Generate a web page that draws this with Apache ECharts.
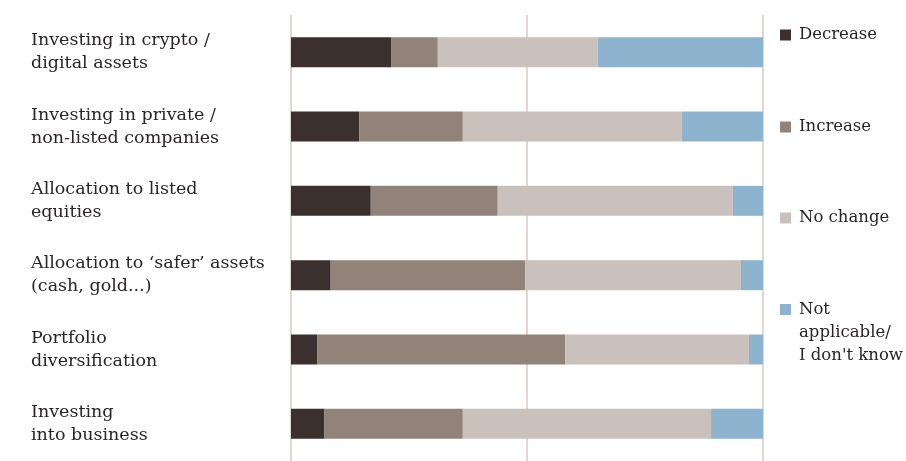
<!DOCTYPE html>
<html>
<head>
<meta charset="utf-8">
<script src="https://cdn.jsdelivr.net/npm/echarts@6/dist/echarts.min.js"></script>
<style>
  html, body { margin: 0; padding: 0; background: #ffffff; }
  #chart { width: 906px; height: 461px; }
</style>
</head>
<body>
<div id="chart"></div>
<script>
// Categories, top to bottom
const categories = [
  'Investing in crypto /\ndigital assets',
  'Investing in private /\nnon-listed companies',
  'Allocation to listed\nequities',
  'Allocation to \u2018safer\u2019 assets\n(cash, gold...)',
  'Portfolio\ndiversification',
  'Investing\ninto business'
];

// Share of respondents (%) per answer
const decrease  = [21.3, 14.5, 16.9,  8.4,  5.6,  7.1];
const increase  = [ 9.8, 21.9, 26.9, 41.2, 52.5, 29.3];
const noChange  = [33.9, 46.4, 49.8, 45.7, 38.9, 52.6];
const notApplicable = [35.0, 17.2,  6.4,  4.7,  3.0, 11.0];

const seriesNames = ['Decrease', 'Increase', 'No change', 'Not applicable/ I don\'t know'];
// Legend text; the two leading blank lines keep the swatch beside the first line
const legendLabels = ['Decrease', 'Increase', 'No change', '\n\nNot\napplicable/\nI don\'t know'];
const seriesColors = ['#3b302e', '#918379', '#cbc1bc', '#8eb3cf'];
const seriesData = [decrease, increase, noChange, notApplicable];

const FONT = 'DejaVu Serif';
const TEXT_COLOR = '#2a2525';

function legendFor(i, top) {
  return {
    data: [seriesNames[i]],
    formatter: () => legendLabels[i],
    left: 780,
    top: top,
    padding: 0,
    orient: 'vertical',
    icon: 'rect',
    itemWidth: 11,
    itemHeight: 11,
    selectedMode: false,
    textStyle: {
      fontFamily: FONT,
      fontSize: 16.5,
      color: TEXT_COLOR,
      lineHeight: 23,
      padding: [0, 0, 0, 3]
    }
  };
}

const chart = echarts.init(document.getElementById('chart'), null, { renderer: 'canvas' });

chart.setOption({
  animation: false,
  backgroundColor: '#ffffff',
  legend: [
    legendFor(0, 23.5),
    legendFor(1, 115.5),
    legendFor(2, 206.5),
    legendFor(3, 252)
  ],
  grid: { left: 291, right: 143, top: 15, bottom: -8 },
  xAxis: {
    type: 'value',
    min: 0,
    max: 100,
    interval: 50,
    axisLine: { show: false },
    axisTick: { show: false },
    axisLabel: { show: false },
    splitLine: { show: true, lineStyle: { color: '#dacdc7', width: 1.6 } }
  },
  yAxis: {
    type: 'category',
    inverse: true,
    data: categories,
    axisLine: { show: false },
    axisTick: { show: false },
    axisLabel: {
      align: 'left',
      margin: 260,
      fontFamily: FONT,
      fontSize: 17.5,
      lineHeight: 23,
      color: TEXT_COLOR
    }
  },
  series: seriesData.map((d, i) => ({
    name: seriesNames[i],
    type: 'bar',
    stack: 'total',
    barWidth: 30,
    data: d,
    itemStyle: { color: seriesColors[i] },
    emphasis: { disabled: true }
  }))
});
</script>
</body>
</html>
